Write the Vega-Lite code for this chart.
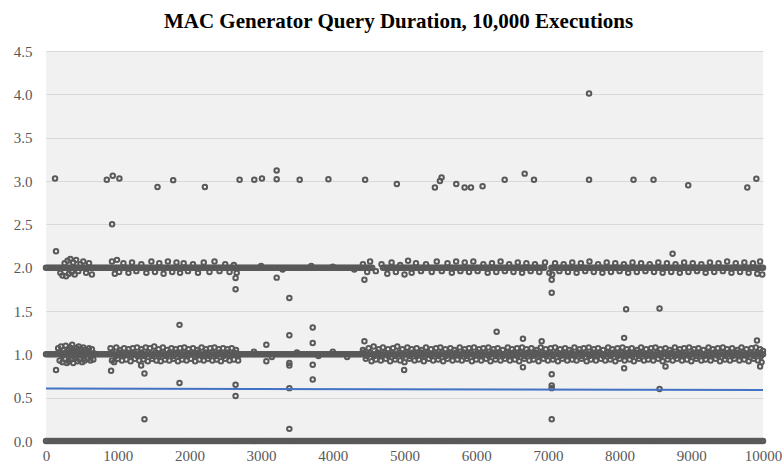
{
"$schema": "https://vega.github.io/schema/vega-lite/v6.json",
"width": 717, "height": 390,
"autosize": {"type": "none"},
"padding": {"left": 46, "top": 51, "right": 21, "bottom": 28},
"background": "white",
"title": {"text": "MAC Generator Query Duration, 10,000 Executions", "font": "Liberation Serif", "fontSize": 21, "fontWeight": "bold", "color": "#000000", "anchor": "middle", "offset": 12, "dx": -6},
"config": {"view": {"fill": "#f1f1f1", "stroke": null}},
"datasets": {
"zero": [
{"run":0,"sec":0},{"run":50,"sec":0},{"run":100,"sec":0},{"run":150,"sec":0},{"run":200,"sec":0},{"run":250,"sec":0},{"run":300,"sec":0},{"run":350,"sec":0},{"run":400,"sec":0},{"run":450,"sec":0},
{"run":500,"sec":0},{"run":550,"sec":0},{"run":600,"sec":0},{"run":650,"sec":0},{"run":700,"sec":0},{"run":750,"sec":0},{"run":800,"sec":0},{"run":850,"sec":0},{"run":900,"sec":0},{"run":950,"sec":0},
{"run":1000,"sec":0},{"run":1050,"sec":0},{"run":1100,"sec":0},{"run":1150,"sec":0},{"run":1200,"sec":0},{"run":1250,"sec":0},{"run":1300,"sec":0},{"run":1350,"sec":0},{"run":1400,"sec":0},{"run":1450,"sec":0},
{"run":1500,"sec":0},{"run":1550,"sec":0},{"run":1600,"sec":0},{"run":1650,"sec":0},{"run":1700,"sec":0},{"run":1750,"sec":0},{"run":1800,"sec":0},{"run":1850,"sec":0},{"run":1900,"sec":0},{"run":1950,"sec":0},
{"run":2000,"sec":0},{"run":2050,"sec":0},{"run":2100,"sec":0},{"run":2150,"sec":0},{"run":2200,"sec":0},{"run":2250,"sec":0},{"run":2300,"sec":0},{"run":2350,"sec":0},{"run":2400,"sec":0},{"run":2450,"sec":0},
{"run":2500,"sec":0},{"run":2550,"sec":0},{"run":2600,"sec":0},{"run":2650,"sec":0},{"run":2700,"sec":0},{"run":2750,"sec":0},{"run":2800,"sec":0},{"run":2850,"sec":0},{"run":2900,"sec":0},{"run":2950,"sec":0},
{"run":3000,"sec":0},{"run":3050,"sec":0},{"run":3100,"sec":0},{"run":3150,"sec":0},{"run":3200,"sec":0},{"run":3250,"sec":0},{"run":3300,"sec":0},{"run":3350,"sec":0},{"run":3400,"sec":0},{"run":3450,"sec":0},
{"run":3500,"sec":0},{"run":3550,"sec":0},{"run":3600,"sec":0},{"run":3650,"sec":0},{"run":3700,"sec":0},{"run":3750,"sec":0},{"run":3800,"sec":0},{"run":3850,"sec":0},{"run":3900,"sec":0},{"run":3950,"sec":0},
{"run":4000,"sec":0},{"run":4050,"sec":0},{"run":4100,"sec":0},{"run":4150,"sec":0},{"run":4200,"sec":0},{"run":4250,"sec":0},{"run":4300,"sec":0},{"run":4350,"sec":0},{"run":4400,"sec":0},{"run":4450,"sec":0},
{"run":4500,"sec":0},{"run":4550,"sec":0},{"run":4600,"sec":0},{"run":4650,"sec":0},{"run":4700,"sec":0},{"run":4750,"sec":0},{"run":4800,"sec":0},{"run":4850,"sec":0},{"run":4900,"sec":0},{"run":4950,"sec":0},
{"run":5000,"sec":0},{"run":5050,"sec":0},{"run":5100,"sec":0},{"run":5150,"sec":0},{"run":5200,"sec":0},{"run":5250,"sec":0},{"run":5300,"sec":0},{"run":5350,"sec":0},{"run":5400,"sec":0},{"run":5450,"sec":0},
{"run":5500,"sec":0},{"run":5550,"sec":0},{"run":5600,"sec":0},{"run":5650,"sec":0},{"run":5700,"sec":0},{"run":5750,"sec":0},{"run":5800,"sec":0},{"run":5850,"sec":0},{"run":5900,"sec":0},{"run":5950,"sec":0},
{"run":6000,"sec":0},{"run":6050,"sec":0},{"run":6100,"sec":0},{"run":6150,"sec":0},{"run":6200,"sec":0},{"run":6250,"sec":0},{"run":6300,"sec":0},{"run":6350,"sec":0},{"run":6400,"sec":0},{"run":6450,"sec":0},
{"run":6500,"sec":0},{"run":6550,"sec":0},{"run":6600,"sec":0},{"run":6650,"sec":0},{"run":6700,"sec":0},{"run":6750,"sec":0},{"run":6800,"sec":0},{"run":6850,"sec":0},{"run":6900,"sec":0},{"run":6950,"sec":0},
{"run":7000,"sec":0},{"run":7050,"sec":0},{"run":7100,"sec":0},{"run":7150,"sec":0},{"run":7200,"sec":0},{"run":7250,"sec":0},{"run":7300,"sec":0},{"run":7350,"sec":0},{"run":7400,"sec":0},{"run":7450,"sec":0},
{"run":7500,"sec":0},{"run":7550,"sec":0},{"run":7600,"sec":0},{"run":7650,"sec":0},{"run":7700,"sec":0},{"run":7750,"sec":0},{"run":7800,"sec":0},{"run":7850,"sec":0},{"run":7900,"sec":0},{"run":7950,"sec":0},
{"run":8000,"sec":0},{"run":8050,"sec":0},{"run":8100,"sec":0},{"run":8150,"sec":0},{"run":8200,"sec":0},{"run":8250,"sec":0},{"run":8300,"sec":0},{"run":8350,"sec":0},{"run":8400,"sec":0},{"run":8450,"sec":0},
{"run":8500,"sec":0},{"run":8550,"sec":0},{"run":8600,"sec":0},{"run":8650,"sec":0},{"run":8700,"sec":0},{"run":8750,"sec":0},{"run":8800,"sec":0},{"run":8850,"sec":0},{"run":8900,"sec":0},{"run":8950,"sec":0},
{"run":9000,"sec":0},{"run":9050,"sec":0},{"run":9100,"sec":0},{"run":9150,"sec":0},{"run":9200,"sec":0},{"run":9250,"sec":0},{"run":9300,"sec":0},{"run":9350,"sec":0},{"run":9400,"sec":0},{"run":9450,"sec":0},
{"run":9500,"sec":0},{"run":9550,"sec":0},{"run":9600,"sec":0},{"run":9650,"sec":0},{"run":9700,"sec":0},{"run":9750,"sec":0},{"run":9800,"sec":0},{"run":9850,"sec":0},{"run":9900,"sec":0},{"run":9950,"sec":0},
{"run":10000,"sec":0},
{"run":25,"sec":0},{"run":75,"sec":0},{"run":125,"sec":0},{"run":175,"sec":0},{"run":225,"sec":0},{"run":275,"sec":0},{"run":325,"sec":0},{"run":375,"sec":0},{"run":425,"sec":0},{"run":475,"sec":0},
{"run":525,"sec":0},{"run":575,"sec":0},{"run":625,"sec":0},{"run":675,"sec":0},{"run":725,"sec":0},{"run":775,"sec":0},{"run":825,"sec":0},{"run":875,"sec":0},{"run":925,"sec":0},{"run":975,"sec":0},
{"run":1025,"sec":0},{"run":1075,"sec":0},{"run":1125,"sec":0},{"run":1175,"sec":0},{"run":1225,"sec":0},{"run":1275,"sec":0},{"run":1325,"sec":0},{"run":1375,"sec":0},{"run":1425,"sec":0},{"run":1475,"sec":0},
{"run":1525,"sec":0},{"run":1575,"sec":0},{"run":1625,"sec":0},{"run":1675,"sec":0},{"run":1725,"sec":0},{"run":1775,"sec":0},{"run":1825,"sec":0},{"run":1875,"sec":0},{"run":1925,"sec":0},{"run":1975,"sec":0},
{"run":2025,"sec":0},{"run":2075,"sec":0},{"run":2125,"sec":0},{"run":2175,"sec":0},{"run":2225,"sec":0},{"run":2275,"sec":0},{"run":2325,"sec":0},{"run":2375,"sec":0},{"run":2425,"sec":0},{"run":2475,"sec":0},
{"run":2525,"sec":0},{"run":2575,"sec":0},{"run":2625,"sec":0},{"run":2675,"sec":0},{"run":2725,"sec":0},{"run":2775,"sec":0},{"run":2825,"sec":0},{"run":2875,"sec":0},{"run":2925,"sec":0},{"run":2975,"sec":0},
{"run":3025,"sec":0},{"run":3075,"sec":0},{"run":3125,"sec":0},{"run":3175,"sec":0},{"run":3225,"sec":0},{"run":3275,"sec":0},{"run":3325,"sec":0},{"run":3375,"sec":0},{"run":3425,"sec":0},{"run":3475,"sec":0},
{"run":3525,"sec":0},{"run":3575,"sec":0},{"run":3625,"sec":0},{"run":3675,"sec":0},{"run":3725,"sec":0},{"run":3775,"sec":0},{"run":3825,"sec":0},{"run":3875,"sec":0},{"run":3925,"sec":0},{"run":3975,"sec":0},
{"run":4025,"sec":0},{"run":4075,"sec":0},{"run":4125,"sec":0},{"run":4175,"sec":0},{"run":4225,"sec":0},{"run":4275,"sec":0},{"run":4325,"sec":0},{"run":4375,"sec":0},{"run":4425,"sec":0},{"run":4475,"sec":0},
{"run":4525,"sec":0},{"run":4575,"sec":0},{"run":4625,"sec":0},{"run":4675,"sec":0},{"run":4725,"sec":0},{"run":4775,"sec":0},{"run":4825,"sec":0},{"run":4875,"sec":0},{"run":4925,"sec":0},{"run":4975,"sec":0},
{"run":5025,"sec":0},{"run":5075,"sec":0},{"run":5125,"sec":0},{"run":5175,"sec":0},{"run":5225,"sec":0},{"run":5275,"sec":0},{"run":5325,"sec":0},{"run":5375,"sec":0},{"run":5425,"sec":0},{"run":5475,"sec":0},
{"run":5525,"sec":0},{"run":5575,"sec":0},{"run":5625,"sec":0},{"run":5675,"sec":0},{"run":5725,"sec":0},{"run":5775,"sec":0},{"run":5825,"sec":0},{"run":5875,"sec":0},{"run":5925,"sec":0},{"run":5975,"sec":0},
{"run":6025,"sec":0},{"run":6075,"sec":0},{"run":6125,"sec":0},{"run":6175,"sec":0},{"run":6225,"sec":0},{"run":6275,"sec":0},{"run":6325,"sec":0},{"run":6375,"sec":0},{"run":6425,"sec":0},{"run":6475,"sec":0},
{"run":6525,"sec":0},{"run":6575,"sec":0},{"run":6625,"sec":0},{"run":6675,"sec":0},{"run":6725,"sec":0},{"run":6775,"sec":0},{"run":6825,"sec":0},{"run":6875,"sec":0},{"run":6925,"sec":0},{"run":6975,"sec":0},
{"run":7025,"sec":0},{"run":7075,"sec":0},{"run":7125,"sec":0},{"run":7175,"sec":0},{"run":7225,"sec":0},{"run":7275,"sec":0},{"run":7325,"sec":0},{"run":7375,"sec":0},{"run":7425,"sec":0},{"run":7475,"sec":0},
{"run":7525,"sec":0},{"run":7575,"sec":0},{"run":7625,"sec":0},{"run":7675,"sec":0},{"run":7725,"sec":0},{"run":7775,"sec":0},{"run":7825,"sec":0},{"run":7875,"sec":0},{"run":7925,"sec":0},{"run":7975,"sec":0},
{"run":8025,"sec":0},{"run":8075,"sec":0},{"run":8125,"sec":0},{"run":8175,"sec":0},{"run":8225,"sec":0},{"run":8275,"sec":0},{"run":8325,"sec":0},{"run":8375,"sec":0},{"run":8425,"sec":0},{"run":8475,"sec":0},
{"run":8525,"sec":0},{"run":8575,"sec":0},{"run":8625,"sec":0},{"run":8675,"sec":0},{"run":8725,"sec":0},{"run":8775,"sec":0},{"run":8825,"sec":0},{"run":8875,"sec":0},{"run":8925,"sec":0},{"run":8975,"sec":0},
{"run":9025,"sec":0},{"run":9075,"sec":0},{"run":9125,"sec":0},{"run":9175,"sec":0},{"run":9225,"sec":0},{"run":9275,"sec":0},{"run":9325,"sec":0},{"run":9375,"sec":0},{"run":9425,"sec":0},{"run":9475,"sec":0},
{"run":9525,"sec":0},{"run":9575,"sec":0},{"run":9625,"sec":0},{"run":9675,"sec":0},{"run":9725,"sec":0},{"run":9775,"sec":0},{"run":9825,"sec":0},{"run":9875,"sec":0},{"run":9925,"sec":0},{"run":9975,"sec":0}
],
"one": [
{"run":0,"sec":1},{"run":50,"sec":1},{"run":100,"sec":1},{"run":150,"sec":1},{"run":200,"sec":1},{"run":250,"sec":1},{"run":300,"sec":1},{"run":350,"sec":1},{"run":400,"sec":1},{"run":450,"sec":1},
{"run":500,"sec":1},{"run":550,"sec":1},{"run":600,"sec":1},{"run":650,"sec":1},{"run":700,"sec":1},{"run":750,"sec":1},{"run":800,"sec":1},{"run":850,"sec":1},{"run":900,"sec":1},{"run":950,"sec":1},
{"run":1000,"sec":1},{"run":1050,"sec":1},{"run":1100,"sec":1},{"run":1150,"sec":1},{"run":1200,"sec":1},{"run":1250,"sec":1},{"run":1300,"sec":1},{"run":1350,"sec":1},{"run":1400,"sec":1},{"run":1450,"sec":1},
{"run":1500,"sec":1},{"run":1550,"sec":1},{"run":1600,"sec":1},{"run":1650,"sec":1},{"run":1700,"sec":1},{"run":1750,"sec":1},{"run":1800,"sec":1},{"run":1850,"sec":1},{"run":1900,"sec":1},{"run":1950,"sec":1},
{"run":2000,"sec":1},{"run":2050,"sec":1},{"run":2100,"sec":1},{"run":2150,"sec":1},{"run":2200,"sec":1},{"run":2250,"sec":1},{"run":2300,"sec":1},{"run":2350,"sec":1},{"run":2400,"sec":1},{"run":2450,"sec":1},
{"run":2500,"sec":1},{"run":2550,"sec":1},{"run":2600,"sec":1},{"run":2650,"sec":1},{"run":2700,"sec":1},{"run":2750,"sec":1},{"run":2800,"sec":1},{"run":2850,"sec":1},{"run":2900,"sec":1},{"run":2950,"sec":1},
{"run":3000,"sec":1},{"run":3050,"sec":1},{"run":3100,"sec":1},{"run":3150,"sec":1},{"run":3200,"sec":1},{"run":3250,"sec":1},{"run":3300,"sec":1},{"run":3350,"sec":1},{"run":3400,"sec":1},{"run":3450,"sec":1},
{"run":3500,"sec":1},{"run":3550,"sec":1},{"run":3600,"sec":1},{"run":3650,"sec":1},{"run":3700,"sec":1},{"run":3750,"sec":1},{"run":3800,"sec":1},{"run":3850,"sec":1},{"run":3900,"sec":1},{"run":3950,"sec":1},
{"run":4000,"sec":1},{"run":4050,"sec":1},{"run":4100,"sec":1},{"run":4150,"sec":1},{"run":4200,"sec":1},{"run":4250,"sec":1},{"run":4300,"sec":1},{"run":4350,"sec":1},{"run":4400,"sec":1},{"run":4450,"sec":1},
{"run":4500,"sec":1},{"run":4550,"sec":1},{"run":4600,"sec":1},{"run":4650,"sec":1},{"run":4700,"sec":1},{"run":4750,"sec":1},{"run":4800,"sec":1},{"run":4850,"sec":1},{"run":4900,"sec":1},{"run":4950,"sec":1},
{"run":5000,"sec":1},{"run":5050,"sec":1},{"run":5100,"sec":1},{"run":5150,"sec":1},{"run":5200,"sec":1},{"run":5250,"sec":1},{"run":5300,"sec":1},{"run":5350,"sec":1},{"run":5400,"sec":1},{"run":5450,"sec":1},
{"run":5500,"sec":1},{"run":5550,"sec":1},{"run":5600,"sec":1},{"run":5650,"sec":1},{"run":5700,"sec":1},{"run":5750,"sec":1},{"run":5800,"sec":1},{"run":5850,"sec":1},{"run":5900,"sec":1},{"run":5950,"sec":1},
{"run":6000,"sec":1},{"run":6050,"sec":1},{"run":6100,"sec":1},{"run":6150,"sec":1},{"run":6200,"sec":1},{"run":6250,"sec":1},{"run":6300,"sec":1},{"run":6350,"sec":1},{"run":6400,"sec":1},{"run":6450,"sec":1},
{"run":6500,"sec":1},{"run":6550,"sec":1},{"run":6600,"sec":1},{"run":6650,"sec":1},{"run":6700,"sec":1},{"run":6750,"sec":1},{"run":6800,"sec":1},{"run":6850,"sec":1},{"run":6900,"sec":1},{"run":6950,"sec":1},
{"run":7000,"sec":1},{"run":7050,"sec":1},{"run":7100,"sec":1},{"run":7150,"sec":1},{"run":7200,"sec":1},{"run":7250,"sec":1},{"run":7300,"sec":1},{"run":7350,"sec":1},{"run":7400,"sec":1},{"run":7450,"sec":1},
{"run":7500,"sec":1},{"run":7550,"sec":1},{"run":7600,"sec":1},{"run":7650,"sec":1},{"run":7700,"sec":1},{"run":7750,"sec":1},{"run":7800,"sec":1},{"run":7850,"sec":1},{"run":7900,"sec":1},{"run":7950,"sec":1},
{"run":8000,"sec":1},{"run":8050,"sec":1},{"run":8100,"sec":1},{"run":8150,"sec":1},{"run":8200,"sec":1},{"run":8250,"sec":1},{"run":8300,"sec":1},{"run":8350,"sec":1},{"run":8400,"sec":1},{"run":8450,"sec":1},
{"run":8500,"sec":1},{"run":8550,"sec":1},{"run":8600,"sec":1},{"run":8650,"sec":1},{"run":8700,"sec":1},{"run":8750,"sec":1},{"run":8800,"sec":1},{"run":8850,"sec":1},{"run":8900,"sec":1},{"run":8950,"sec":1},
{"run":9000,"sec":1},{"run":9050,"sec":1},{"run":9100,"sec":1},{"run":9150,"sec":1},{"run":9200,"sec":1},{"run":9250,"sec":1},{"run":9300,"sec":1},{"run":9350,"sec":1},{"run":9400,"sec":1},{"run":9450,"sec":1},
{"run":9500,"sec":1},{"run":9550,"sec":1},{"run":9600,"sec":1},{"run":9650,"sec":1},{"run":9700,"sec":1},{"run":9750,"sec":1},{"run":9800,"sec":1},{"run":9850,"sec":1},{"run":9900,"sec":1},{"run":9950,"sec":1},
{"run":10000,"sec":1},
{"run":25,"sec":1},{"run":75,"sec":1},{"run":125,"sec":1},{"run":175,"sec":1.02},{"run":225,"sec":0.98},{"run":275,"sec":1.02},{"run":325,"sec":0.98},{"run":375,"sec":1.02},{"run":425,"sec":0.98},{"run":475,"sec":1.02},
{"run":525,"sec":0.98},{"run":575,"sec":1.02},{"run":625,"sec":0.98},{"run":675,"sec":1.01},{"run":725,"sec":1},{"run":775,"sec":1},{"run":825,"sec":1},{"run":875,"sec":1},{"run":925,"sec":1.02},{"run":975,"sec":0.98},
{"run":1025,"sec":1.02},{"run":1075,"sec":0.98},{"run":1125,"sec":1.02},{"run":1175,"sec":0.98},{"run":1225,"sec":1.02},{"run":1275,"sec":0.98},{"run":1325,"sec":1.02},{"run":1375,"sec":0.98},{"run":1425,"sec":1.02},{"run":1475,"sec":0.98},
{"run":1525,"sec":1.02},{"run":1575,"sec":0.98},{"run":1625,"sec":1.02},{"run":1675,"sec":0.98},{"run":1725,"sec":1.02},{"run":1775,"sec":0.98},{"run":1825,"sec":1.02},{"run":1875,"sec":0.98},{"run":1925,"sec":1.02},{"run":1975,"sec":0.98},
{"run":2025,"sec":1.02},{"run":2075,"sec":0.98},{"run":2125,"sec":1.02},{"run":2175,"sec":0.98},{"run":2225,"sec":1.02},{"run":2275,"sec":0.98},{"run":2325,"sec":1.02},{"run":2375,"sec":0.98},{"run":2425,"sec":1.02},{"run":2475,"sec":0.98},
{"run":2525,"sec":1.02},{"run":2575,"sec":0.98},{"run":2625,"sec":1.02},{"run":2675,"sec":0.98},{"run":2725,"sec":1},{"run":2775,"sec":1},{"run":2825,"sec":1},{"run":2875,"sec":1},{"run":2925,"sec":1},{"run":2975,"sec":1},
{"run":3025,"sec":1},{"run":3075,"sec":1},{"run":3125,"sec":1},{"run":3175,"sec":1},{"run":3225,"sec":1},{"run":3275,"sec":1},{"run":3325,"sec":1},{"run":3375,"sec":1},{"run":3425,"sec":1},{"run":3475,"sec":1},
{"run":3525,"sec":1},{"run":3575,"sec":1},{"run":3625,"sec":1},{"run":3675,"sec":1},{"run":3725,"sec":1},{"run":3775,"sec":1},{"run":3825,"sec":1},{"run":3875,"sec":1},{"run":3925,"sec":1},{"run":3975,"sec":1},
{"run":4025,"sec":1},{"run":4075,"sec":1},{"run":4125,"sec":1},{"run":4175,"sec":1},{"run":4225,"sec":1},{"run":4275,"sec":1},{"run":4325,"sec":1},{"run":4375,"sec":1},{"run":4425,"sec":1.02},{"run":4475,"sec":0.98},
{"run":4525,"sec":1.02},{"run":4575,"sec":0.98},{"run":4625,"sec":1.02},{"run":4675,"sec":0.98},{"run":4725,"sec":1.02},{"run":4775,"sec":0.98},{"run":4825,"sec":1.02},{"run":4875,"sec":0.98},{"run":4925,"sec":1.02},{"run":4975,"sec":0.98},
{"run":5025,"sec":1.02},{"run":5075,"sec":0.98},{"run":5125,"sec":1.02},{"run":5175,"sec":0.98},{"run":5225,"sec":1.02},{"run":5275,"sec":0.98},{"run":5325,"sec":1.02},{"run":5375,"sec":0.98},{"run":5425,"sec":1.02},{"run":5475,"sec":0.98},
{"run":5525,"sec":1.02},{"run":5575,"sec":0.98},{"run":5625,"sec":1.02},{"run":5675,"sec":0.98},{"run":5725,"sec":1.02},{"run":5775,"sec":0.98},{"run":5825,"sec":1.02},{"run":5875,"sec":0.98},{"run":5925,"sec":1.02},{"run":5975,"sec":0.98},
{"run":6025,"sec":1.02},{"run":6075,"sec":0.98},{"run":6125,"sec":1.02},{"run":6175,"sec":0.98},{"run":6225,"sec":1.02},{"run":6275,"sec":0.98},{"run":6325,"sec":1.02},{"run":6375,"sec":0.98},{"run":6425,"sec":1.02},{"run":6475,"sec":0.98},
{"run":6525,"sec":1.02},{"run":6575,"sec":0.98},{"run":6625,"sec":1.02},{"run":6675,"sec":0.98},{"run":6725,"sec":1.02},{"run":6775,"sec":0.98},{"run":6825,"sec":1.02},{"run":6875,"sec":0.98},{"run":6925,"sec":1.02},{"run":6975,"sec":0.98},
{"run":7025,"sec":1.02},{"run":7075,"sec":0.98},{"run":7125,"sec":1.02},{"run":7175,"sec":0.98},{"run":7225,"sec":1.02},{"run":7275,"sec":0.98},{"run":7325,"sec":1.02},{"run":7375,"sec":0.98},{"run":7425,"sec":1.02},{"run":7475,"sec":0.98},
{"run":7525,"sec":1.02},{"run":7575,"sec":0.98},{"run":7625,"sec":1.02},{"run":7675,"sec":0.98},{"run":7725,"sec":1.02},{"run":7775,"sec":0.98},{"run":7825,"sec":1.02},{"run":7875,"sec":0.98},{"run":7925,"sec":1.02},{"run":7975,"sec":0.98},
{"run":8025,"sec":1.02},{"run":8075,"sec":0.98},{"run":8125,"sec":1.02},{"run":8175,"sec":0.98},{"run":8225,"sec":1.02},{"run":8275,"sec":0.98},{"run":8325,"sec":1.02},{"run":8375,"sec":0.98},{"run":8425,"sec":1.02},{"run":8475,"sec":0.98},
{"run":8525,"sec":1.02},{"run":8575,"sec":0.98},{"run":8625,"sec":1.02},{"run":8675,"sec":0.98},{"run":8725,"sec":1.02},{"run":8775,"sec":0.98},{"run":8825,"sec":1.02},{"run":8875,"sec":0.98},{"run":8925,"sec":1.02},{"run":8975,"sec":0.98},
{"run":9025,"sec":1.02},{"run":9075,"sec":0.98},{"run":9125,"sec":1.02},{"run":9175,"sec":0.98},{"run":9225,"sec":1.02},{"run":9275,"sec":0.98},{"run":9325,"sec":1.02},{"run":9375,"sec":0.98},{"run":9425,"sec":1.02},{"run":9475,"sec":0.98},
{"run":9525,"sec":1.02},{"run":9575,"sec":0.98},{"run":9625,"sec":1.02},{"run":9675,"sec":0.98},{"run":9725,"sec":1.02},{"run":9775,"sec":0.98},{"run":9825,"sec":1.02},{"run":9875,"sec":0.98},{"run":9925,"sec":1.02},{"run":9975,"sec":0.98},
{"run":170,"sec":1.07},{"run":190,"sec":0.93},{"run":210,"sec":1.09},{"run":230,"sec":0.91},{"run":250,"sec":1.05},{"run":260,"sec":0.95},{"run":275,"sec":1.1},{"run":290,"sec":0.9},{"run":305,"sec":1.06},{"run":320,"sec":0.92},
{"run":335,"sec":1.08},{"run":350,"sec":0.94},{"run":365,"sec":1.11},{"run":380,"sec":0.9},{"run":395,"sec":1.04},{"run":410,"sec":0.96},{"run":425,"sec":1.07},{"run":440,"sec":0.92},{"run":455,"sec":1.09},{"run":470,"sec":0.94},
{"run":490,"sec":1.06},{"run":505,"sec":0.91},{"run":520,"sec":1.08},{"run":540,"sec":0.93},{"run":560,"sec":1.05},{"run":580,"sec":0.95},{"run":600,"sec":1.07},{"run":620,"sec":0.93},{"run":640,"sec":1.06},{"run":660,"sec":0.94},
{"run":900,"sec":1.07},{"run":920,"sec":0.93},{"run":950,"sec":0.91},{"run":980,"sec":1.08},{"run":1000,"sec":0.95},{"run":1030,"sec":1.05},{"run":1060,"sec":0.93},{"run":1090,"sec":1.07},{"run":1120,"sec":0.94},{"run":1150,"sec":1.06},
{"run":1180,"sec":0.92},{"run":1210,"sec":1.07},{"run":1240,"sec":0.95},{"run":1270,"sec":1.08},{"run":1300,"sec":0.93},{"run":1330,"sec":1.06},{"run":1360,"sec":0.94},{"run":1390,"sec":1.08},{"run":1420,"sec":0.92},{"run":1450,"sec":1.07},
{"run":1480,"sec":0.95},{"run":1510,"sec":1.09},{"run":1540,"sec":0.93},{"run":1570,"sec":1.06},{"run":1600,"sec":0.92},{"run":1630,"sec":1.08},{"run":1660,"sec":0.94},{"run":1690,"sec":1.05},{"run":1720,"sec":0.93},{"run":1750,"sec":1.07},
{"run":1780,"sec":0.95},{"run":1810,"sec":1.06},{"run":1840,"sec":0.92},{"run":1870,"sec":1.07},{"run":1900,"sec":0.94},{"run":1930,"sec":1.08},{"run":1960,"sec":0.93},{"run":1990,"sec":1.06},{"run":2020,"sec":0.95},{"run":2050,"sec":1.07},
{"run":2080,"sec":0.92},{"run":2110,"sec":1.05},{"run":2140,"sec":0.94},{"run":2170,"sec":1.08},{"run":2200,"sec":0.93},{"run":2230,"sec":1.06},{"run":2260,"sec":0.95},{"run":2290,"sec":1.07},{"run":2320,"sec":0.93},{"run":2350,"sec":1.08},
{"run":2380,"sec":0.94},{"run":2410,"sec":1.06},{"run":2440,"sec":0.92},{"run":2470,"sec":1.07},{"run":2500,"sec":0.95},{"run":2530,"sec":1.06},{"run":2560,"sec":0.93},{"run":2590,"sec":1.07},{"run":2620,"sec":0.94},{"run":2650,"sec":1.05},
{"run":2680,"sec":0.93},
{"run":2900,"sec":1.03},{"run":3150,"sec":0.97},{"run":3500,"sec":1.02},{"run":3800,"sec":0.98},{"run":4000,"sec":1.03},{"run":4200,"sec":0.97},
{"run":4420,"sec":1.05},{"run":4460,"sec":0.95},{"run":4500,"sec":1.07},{"run":4540,"sec":0.92},{"run":4570,"sec":1.09},{"run":4600,"sec":0.94},{"run":4640,"sec":1.06},{"run":4670,"sec":0.93},{"run":4700,"sec":1.08},{"run":4740,"sec":0.95},
{"run":4770,"sec":1.06},{"run":4800,"sec":0.92},{"run":4840,"sec":1.07},{"run":4870,"sec":0.94},{"run":4900,"sec":1.09},{"run":4940,"sec":0.93},{"run":4970,"sec":1.06},{"run":5000,"sec":0.91},{"run":5040,"sec":1.08},{"run":5070,"sec":0.95},
{"run":5100,"sec":1.06},{"run":5140,"sec":0.93},{"run":5170,"sec":1.07},{"run":5200,"sec":0.94},{"run":5240,"sec":1.05},{"run":5270,"sec":0.92},{"run":5300,"sec":1.08},{"run":5340,"sec":0.95},{"run":5370,"sec":1.06},{"run":5400,"sec":0.93},
{"run":5440,"sec":1.07},{"run":5470,"sec":0.94},{"run":5500,"sec":1.08},{"run":5540,"sec":0.92},{"run":5570,"sec":1.06},{"run":5600,"sec":0.95},{"run":5640,"sec":1.07},{"run":5670,"sec":0.93},{"run":5700,"sec":1.05},{"run":5740,"sec":0.94},
{"run":5770,"sec":1.08},{"run":5800,"sec":0.93},{"run":5840,"sec":1.06},{"run":5870,"sec":0.95},{"run":5900,"sec":1.07},{"run":5940,"sec":0.92},{"run":5970,"sec":1.08},{"run":6000,"sec":0.94},{"run":6040,"sec":1.06},{"run":6070,"sec":0.93},
{"run":6100,"sec":1.07},{"run":6140,"sec":0.95},{"run":6170,"sec":1.08},{"run":6200,"sec":0.92},{"run":6240,"sec":1.06},{"run":6270,"sec":0.94},{"run":6300,"sec":1.07},{"run":6340,"sec":0.93},{"run":6370,"sec":1.05},{"run":6400,"sec":0.95},
{"run":6440,"sec":1.08},{"run":6470,"sec":0.93},{"run":6500,"sec":1.06},{"run":6540,"sec":0.94},{"run":6570,"sec":1.07},{"run":6600,"sec":0.92},{"run":6640,"sec":1.08},{"run":6670,"sec":0.95},{"run":6700,"sec":1.06},{"run":6740,"sec":0.93},
{"run":6770,"sec":1.07},{"run":6800,"sec":0.94},{"run":6840,"sec":1.05},{"run":6870,"sec":0.92},{"run":6900,"sec":1.08},{"run":6940,"sec":0.95},{"run":6970,"sec":1.06},{"run":7000,"sec":0.93},{"run":7040,"sec":1.07},{"run":7070,"sec":0.94},
{"run":7100,"sec":1.08},{"run":7140,"sec":0.92},{"run":7170,"sec":1.06},{"run":7200,"sec":0.95},{"run":7240,"sec":1.07},{"run":7270,"sec":0.93},{"run":7300,"sec":1.05},{"run":7340,"sec":0.94},{"run":7370,"sec":1.08},{"run":7400,"sec":0.93},
{"run":7440,"sec":1.06},{"run":7470,"sec":0.95},{"run":7500,"sec":1.07},{"run":7540,"sec":0.92},{"run":7570,"sec":1.08},{"run":7600,"sec":0.94},{"run":7640,"sec":1.06},{"run":7670,"sec":0.93},{"run":7700,"sec":1.07},{"run":7740,"sec":0.95},
{"run":7770,"sec":1.05},{"run":7800,"sec":0.93},{"run":7840,"sec":1.08},{"run":7870,"sec":0.94},{"run":7900,"sec":1.06},{"run":7940,"sec":0.92},{"run":7970,"sec":1.07},{"run":8000,"sec":0.95},{"run":8040,"sec":1.08},{"run":8070,"sec":0.93},
{"run":8100,"sec":1.06},{"run":8140,"sec":0.94},{"run":8170,"sec":1.07},{"run":8200,"sec":0.92},{"run":8240,"sec":1.05},{"run":8270,"sec":0.95},{"run":8300,"sec":1.08},{"run":8340,"sec":0.93},{"run":8370,"sec":1.06},{"run":8400,"sec":0.94},
{"run":8440,"sec":1.07},{"run":8470,"sec":0.93},{"run":8500,"sec":1.08},{"run":8540,"sec":0.95},{"run":8570,"sec":1.06},{"run":8600,"sec":0.92},{"run":8640,"sec":1.07},{"run":8670,"sec":0.94},{"run":8700,"sec":1.05},{"run":8740,"sec":0.93},
{"run":8770,"sec":1.08},{"run":8800,"sec":0.95},{"run":8840,"sec":1.06},{"run":8870,"sec":0.93},{"run":8900,"sec":1.07},{"run":8940,"sec":0.94},{"run":8970,"sec":1.08},{"run":9000,"sec":0.92},{"run":9040,"sec":1.06},{"run":9070,"sec":0.95},
{"run":9100,"sec":1.07},{"run":9140,"sec":0.93},{"run":9170,"sec":1.05},{"run":9200,"sec":0.94},{"run":9240,"sec":1.08},{"run":9270,"sec":0.93},{"run":9300,"sec":1.06},{"run":9340,"sec":0.95},{"run":9370,"sec":1.07},{"run":9400,"sec":0.92},
{"run":9440,"sec":1.08},{"run":9470,"sec":0.94},{"run":9500,"sec":1.06},{"run":9540,"sec":0.93},{"run":9570,"sec":1.07},{"run":9600,"sec":0.95},{"run":9640,"sec":1.05},{"run":9670,"sec":0.93},{"run":9700,"sec":1.08},{"run":9740,"sec":0.94},
{"run":9770,"sec":1.06},{"run":9800,"sec":0.92},{"run":9840,"sec":1.07},{"run":9870,"sec":0.95},{"run":9900,"sec":1.08},{"run":9930,"sec":0.93},{"run":9960,"sec":1.06},{"run":9980,"sec":0.91},{"run":10000,"sec":1.04}
],
"two": [
{"run":0,"sec":2},{"run":50,"sec":2},{"run":100,"sec":2},{"run":150,"sec":2},{"run":200,"sec":2},{"run":250,"sec":2},{"run":300,"sec":2},{"run":350,"sec":2},{"run":400,"sec":2},{"run":450,"sec":2},
{"run":500,"sec":2},{"run":550,"sec":2},{"run":600,"sec":2},{"run":650,"sec":2},{"run":700,"sec":2},{"run":750,"sec":2},{"run":800,"sec":2},{"run":850,"sec":2},{"run":900,"sec":2},{"run":950,"sec":2},
{"run":1000,"sec":2},{"run":1050,"sec":2},{"run":1100,"sec":2},{"run":1150,"sec":2},{"run":1200,"sec":2},{"run":1250,"sec":2},{"run":1300,"sec":2},{"run":1350,"sec":2},{"run":1400,"sec":2},{"run":1450,"sec":2},
{"run":1500,"sec":2},{"run":1550,"sec":2},{"run":1600,"sec":2},{"run":1650,"sec":2},{"run":1700,"sec":2},{"run":1750,"sec":2},{"run":1800,"sec":2},{"run":1850,"sec":2},{"run":1900,"sec":2},{"run":1950,"sec":2},
{"run":2000,"sec":2},{"run":2050,"sec":2},{"run":2100,"sec":2},{"run":2150,"sec":2},{"run":2200,"sec":2},{"run":2250,"sec":2},{"run":2300,"sec":2},{"run":2350,"sec":2},{"run":2400,"sec":2},{"run":2450,"sec":2},
{"run":2500,"sec":2},{"run":2550,"sec":2},{"run":2600,"sec":2},{"run":2650,"sec":2},{"run":2700,"sec":2},{"run":2750,"sec":2},{"run":2800,"sec":2},{"run":2850,"sec":2},{"run":2900,"sec":2},{"run":2950,"sec":2},
{"run":3000,"sec":2},{"run":3050,"sec":2},{"run":3100,"sec":2},{"run":3150,"sec":2},{"run":3200,"sec":2},{"run":3250,"sec":2},{"run":3300,"sec":2},{"run":3350,"sec":2},{"run":3400,"sec":2},{"run":3450,"sec":2},
{"run":3500,"sec":2},{"run":3550,"sec":2},{"run":3600,"sec":2},{"run":3650,"sec":2},{"run":3700,"sec":2},{"run":3750,"sec":2},{"run":3800,"sec":2},{"run":3850,"sec":2},{"run":3900,"sec":2},{"run":3950,"sec":2},
{"run":4000,"sec":2},{"run":4050,"sec":2},{"run":4100,"sec":2},{"run":4150,"sec":2},{"run":4200,"sec":2},{"run":4250,"sec":2},{"run":4300,"sec":2},{"run":4350,"sec":2},{"run":4400,"sec":2},{"run":4450,"sec":2},
{"run":4500,"sec":2},{"run":4550,"sec":2},{"run":4700,"sec":2},{"run":4750,"sec":2},{"run":4800,"sec":2},{"run":4850,"sec":2},{"run":4900,"sec":2},{"run":4950,"sec":2},
{"run":5000,"sec":2},{"run":5050,"sec":2},{"run":5100,"sec":2},{"run":5150,"sec":2},{"run":5200,"sec":2},{"run":5250,"sec":2},{"run":5300,"sec":2},{"run":5350,"sec":2},{"run":5400,"sec":2},{"run":5450,"sec":2},
{"run":5500,"sec":2},{"run":5550,"sec":2},{"run":5600,"sec":2},{"run":5650,"sec":2},{"run":5700,"sec":2},{"run":5750,"sec":2},{"run":5800,"sec":2},{"run":5850,"sec":2},{"run":5900,"sec":2},{"run":5950,"sec":2},
{"run":6000,"sec":2},{"run":6050,"sec":2},{"run":6100,"sec":2},{"run":6150,"sec":2},{"run":6200,"sec":2},{"run":6250,"sec":2},{"run":6300,"sec":2},{"run":6350,"sec":2},{"run":6400,"sec":2},{"run":6450,"sec":2},
{"run":6500,"sec":2},{"run":6550,"sec":2},{"run":6600,"sec":2},{"run":6650,"sec":2},{"run":6700,"sec":2},{"run":6750,"sec":2},{"run":6800,"sec":2},{"run":6850,"sec":2},{"run":6900,"sec":2},{"run":6950,"sec":2},
{"run":7050,"sec":2},{"run":7100,"sec":2},{"run":7150,"sec":2},{"run":7200,"sec":2},{"run":7250,"sec":2},{"run":7300,"sec":2},{"run":7350,"sec":2},{"run":7400,"sec":2},{"run":7450,"sec":2},
{"run":7500,"sec":2},{"run":7550,"sec":2},{"run":7600,"sec":2},{"run":7650,"sec":2},{"run":7700,"sec":2},{"run":7750,"sec":2},{"run":7800,"sec":2},{"run":7850,"sec":2},{"run":7900,"sec":2},{"run":7950,"sec":2},
{"run":8000,"sec":2},{"run":8050,"sec":2},{"run":8100,"sec":2},{"run":8150,"sec":2},{"run":8200,"sec":2},{"run":8250,"sec":2},{"run":8300,"sec":2},{"run":8350,"sec":2},{"run":8400,"sec":2},{"run":8450,"sec":2},
{"run":8500,"sec":2},{"run":8550,"sec":2},{"run":8600,"sec":2},{"run":8650,"sec":2},{"run":8700,"sec":2},{"run":8750,"sec":2},{"run":8800,"sec":2},{"run":8850,"sec":2},{"run":8900,"sec":2},{"run":8950,"sec":2},
{"run":9000,"sec":2},{"run":9050,"sec":2},{"run":9100,"sec":2},{"run":9150,"sec":2},{"run":9200,"sec":2},{"run":9250,"sec":2},{"run":9300,"sec":2},{"run":9350,"sec":2},{"run":9400,"sec":2},{"run":9450,"sec":2},
{"run":9500,"sec":2},{"run":9550,"sec":2},{"run":9600,"sec":2},{"run":9650,"sec":2},{"run":9700,"sec":2},{"run":9750,"sec":2},{"run":9800,"sec":2},{"run":9850,"sec":2},{"run":9900,"sec":2},{"run":9950,"sec":2},
{"run":10000,"sec":2},
{"run":25,"sec":2},{"run":75,"sec":2},{"run":125,"sec":2},{"run":175,"sec":2},{"run":225,"sec":2},{"run":275,"sec":2},{"run":325,"sec":2},{"run":375,"sec":2},{"run":425,"sec":2},{"run":475,"sec":2},
{"run":525,"sec":2},{"run":575,"sec":2},{"run":625,"sec":2},{"run":675,"sec":2},{"run":725,"sec":2},{"run":775,"sec":2},{"run":825,"sec":2},{"run":875,"sec":2},{"run":925,"sec":2},{"run":975,"sec":2},
{"run":1025,"sec":2},{"run":1075,"sec":2},{"run":1125,"sec":2},{"run":1175,"sec":2},{"run":1225,"sec":2},{"run":1275,"sec":2},{"run":1325,"sec":2},{"run":1375,"sec":2},{"run":1425,"sec":2},{"run":1475,"sec":2},
{"run":1525,"sec":2},{"run":1575,"sec":2},{"run":1625,"sec":2},{"run":1675,"sec":2},{"run":1725,"sec":2},{"run":1775,"sec":2},{"run":1825,"sec":2},{"run":1875,"sec":2},{"run":1925,"sec":2},{"run":1975,"sec":2},
{"run":2025,"sec":2},{"run":2075,"sec":2},{"run":2125,"sec":2},{"run":2175,"sec":2},{"run":2225,"sec":2},{"run":2275,"sec":2},{"run":2325,"sec":2},{"run":2375,"sec":2},{"run":2425,"sec":2},{"run":2475,"sec":2},
{"run":2525,"sec":2},{"run":2575,"sec":2},{"run":2625,"sec":2},{"run":2675,"sec":2},{"run":2725,"sec":2},{"run":2775,"sec":2},{"run":2825,"sec":2},{"run":2875,"sec":2},{"run":2925,"sec":2},{"run":2975,"sec":2},
{"run":3025,"sec":2},{"run":3075,"sec":2},{"run":3125,"sec":2},{"run":3175,"sec":2},{"run":3225,"sec":2},{"run":3275,"sec":2},{"run":3325,"sec":2},{"run":3375,"sec":2},{"run":3425,"sec":2},{"run":3475,"sec":2},
{"run":3525,"sec":2},{"run":3575,"sec":2},{"run":3625,"sec":2},{"run":3675,"sec":2},{"run":3725,"sec":2},{"run":3775,"sec":2},{"run":3825,"sec":2},{"run":3875,"sec":2},{"run":3925,"sec":2},{"run":3975,"sec":2},
{"run":4025,"sec":2},{"run":4075,"sec":2},{"run":4125,"sec":2},{"run":4175,"sec":2},{"run":4225,"sec":2},{"run":4275,"sec":2},{"run":4325,"sec":2},{"run":4375,"sec":2},{"run":4425,"sec":2},{"run":4475,"sec":2},
{"run":4525,"sec":2},{"run":4725,"sec":2},{"run":4775,"sec":2},{"run":4825,"sec":2},{"run":4875,"sec":2},{"run":4925,"sec":2},{"run":4975,"sec":2},
{"run":5025,"sec":2},{"run":5075,"sec":2},{"run":5125,"sec":2},{"run":5175,"sec":2},{"run":5225,"sec":2},{"run":5275,"sec":2},{"run":5325,"sec":2},{"run":5375,"sec":2},{"run":5425,"sec":2},{"run":5475,"sec":2},
{"run":5525,"sec":2},{"run":5575,"sec":2},{"run":5625,"sec":2},{"run":5675,"sec":2},{"run":5725,"sec":2},{"run":5775,"sec":2},{"run":5825,"sec":2},{"run":5875,"sec":2},{"run":5925,"sec":2},{"run":5975,"sec":2},
{"run":6025,"sec":2},{"run":6075,"sec":2},{"run":6125,"sec":2},{"run":6175,"sec":2},{"run":6225,"sec":2},{"run":6275,"sec":2},{"run":6325,"sec":2},{"run":6375,"sec":2},{"run":6425,"sec":2},{"run":6475,"sec":2},
{"run":6525,"sec":2},{"run":6575,"sec":2},{"run":6625,"sec":2},{"run":6675,"sec":2},{"run":6725,"sec":2},{"run":6775,"sec":2},{"run":6825,"sec":2},{"run":6875,"sec":2},{"run":6925,"sec":2},
{"run":7075,"sec":2},{"run":7125,"sec":2},{"run":7175,"sec":2},{"run":7225,"sec":2},{"run":7275,"sec":2},{"run":7325,"sec":2},{"run":7375,"sec":2},{"run":7425,"sec":2},{"run":7475,"sec":2},
{"run":7525,"sec":2},{"run":7575,"sec":2},{"run":7625,"sec":2},{"run":7675,"sec":2},{"run":7725,"sec":2},{"run":7775,"sec":2},{"run":7825,"sec":2},{"run":7875,"sec":2},{"run":7925,"sec":2},{"run":7975,"sec":2},
{"run":8025,"sec":2},{"run":8075,"sec":2},{"run":8125,"sec":2},{"run":8175,"sec":2},{"run":8225,"sec":2},{"run":8275,"sec":2},{"run":8325,"sec":2},{"run":8375,"sec":2},{"run":8425,"sec":2},{"run":8475,"sec":2},
{"run":8525,"sec":2},{"run":8575,"sec":2},{"run":8625,"sec":2},{"run":8675,"sec":2},{"run":8725,"sec":2},{"run":8775,"sec":2},{"run":8825,"sec":2},{"run":8875,"sec":2},{"run":8925,"sec":2},{"run":8975,"sec":2},
{"run":9025,"sec":2},{"run":9075,"sec":2},{"run":9125,"sec":2},{"run":9175,"sec":2},{"run":9225,"sec":2},{"run":9275,"sec":2},{"run":9325,"sec":2},{"run":9375,"sec":2},{"run":9425,"sec":2},{"run":9475,"sec":2},
{"run":9525,"sec":2},{"run":9575,"sec":2},{"run":9625,"sec":2},{"run":9675,"sec":2},{"run":9725,"sec":2},{"run":9775,"sec":2},{"run":9825,"sec":2},{"run":9875,"sec":2},{"run":9925,"sec":2},{"run":9975,"sec":2},
{"run":200,"sec":1.94},{"run":230,"sec":1.91},{"run":260,"sec":2.05},{"run":280,"sec":1.9},{"run":300,"sec":2.08},{"run":320,"sec":1.93},{"run":340,"sec":2.1},{"run":360,"sec":1.95},{"run":380,"sec":2.06},{"run":400,"sec":1.92},
{"run":420,"sec":2.09},{"run":450,"sec":1.96},{"run":480,"sec":2.04},{"run":520,"sec":2.07},{"run":560,"sec":1.94},{"run":600,"sec":2.05},{"run":640,"sec":1.92},
{"run":920,"sec":2.07},{"run":960,"sec":1.93},{"run":990,"sec":2.09},{"run":1020,"sec":1.95},{"run":1080,"sec":2.05},{"run":1150,"sec":1.94},{"run":1200,"sec":2.06},{"run":1260,"sec":1.96},{"run":1330,"sec":2.04},{"run":1400,"sec":1.94},
{"run":1470,"sec":2.07},{"run":1520,"sec":1.95},{"run":1580,"sec":2.05},{"run":1640,"sec":1.93},{"run":1700,"sec":2.07},{"run":1760,"sec":1.95},{"run":1820,"sec":2.06},{"run":1870,"sec":1.94},{"run":1920,"sec":2.05},{"run":1980,"sec":1.96},
{"run":2050,"sec":2.04},{"run":2120,"sec":1.94},{"run":2200,"sec":2.06},{"run":2280,"sec":1.95},{"run":2350,"sec":2.07},{"run":2420,"sec":1.96},{"run":2500,"sec":2.04},{"run":2560,"sec":1.95},{"run":2620,"sec":2.03},{"run":2660,"sec":1.94},
{"run":3000,"sec":2.02},{"run":3300,"sec":1.98},{"run":3700,"sec":2.02},{"run":4000,"sec":2.01},{"run":4300,"sec":1.98},
{"run":4420,"sec":2.04},{"run":4480,"sec":1.95},{"run":4520,"sec":2.07},{"run":4600,"sec":1.96},{"run":4680,"sec":2.04},{"run":4760,"sec":1.93},{"run":4820,"sec":2.06},{"run":4880,"sec":1.95},{"run":4940,"sec":2.03},{"run":5000,"sec":1.92},
{"run":5050,"sec":2.08},{"run":5100,"sec":1.94},{"run":5160,"sec":2.05},{"run":5230,"sec":1.96},{"run":5300,"sec":2.04},{"run":5380,"sec":1.95},{"run":5450,"sec":2.07},{"run":5520,"sec":1.96},{"run":5600,"sec":2.05},{"run":5660,"sec":1.94},
{"run":5720,"sec":2.07},{"run":5780,"sec":1.96},{"run":5840,"sec":2.06},{"run":5900,"sec":1.95},{"run":5960,"sec":2.07},{"run":6020,"sec":1.96},{"run":6100,"sec":2.04},{"run":6160,"sec":1.94},{"run":6220,"sec":2.05},{"run":6280,"sec":1.95},
{"run":6340,"sec":2.07},{"run":6400,"sec":1.96},{"run":6460,"sec":2.04},{"run":6520,"sec":1.95},{"run":6580,"sec":2.06},{"run":6640,"sec":1.94},{"run":6700,"sec":2.05},{"run":6760,"sec":1.96},{"run":6820,"sec":2.04},{"run":6880,"sec":1.95},
{"run":6960,"sec":2.06},{"run":7020,"sec":1.94},{"run":7060,"sec":1.92},{"run":7100,"sec":2.05},{"run":7160,"sec":1.96},{"run":7220,"sec":2.04},{"run":7280,"sec":1.95},{"run":7340,"sec":2.06},{"run":7400,"sec":1.94},{"run":7460,"sec":2.05},
{"run":7520,"sec":1.96},{"run":7580,"sec":2.07},{"run":7640,"sec":1.95},{"run":7700,"sec":2.04},{"run":7760,"sec":1.94},{"run":7820,"sec":2.06},{"run":7880,"sec":1.95},{"run":7940,"sec":2.05},{"run":8000,"sec":1.96},{"run":8060,"sec":2.04},
{"run":8120,"sec":1.94},{"run":8180,"sec":2.06},{"run":8240,"sec":1.95},{"run":8300,"sec":2.05},{"run":8360,"sec":1.96},{"run":8420,"sec":2.04},{"run":8480,"sec":1.95},{"run":8540,"sec":2.06},{"run":8600,"sec":1.94},{"run":8660,"sec":2.05},
{"run":8720,"sec":1.95},{"run":8780,"sec":2.04},{"run":8840,"sec":1.94},{"run":8900,"sec":2.06},{"run":8960,"sec":1.95},{"run":9020,"sec":2.05},{"run":9080,"sec":1.96},{"run":9140,"sec":2.04},{"run":9200,"sec":1.94},{"run":9260,"sec":2.06},
{"run":9320,"sec":1.95},{"run":9380,"sec":2.05},{"run":9440,"sec":1.96},{"run":9500,"sec":2.07},{"run":9560,"sec":1.94},{"run":9620,"sec":2.05},{"run":9680,"sec":1.95},{"run":9740,"sec":2.06},{"run":9800,"sec":1.94},{"run":9860,"sec":2.05},
{"run":9920,"sec":1.93},{"run":9960,"sec":2.07},{"run":9990,"sec":1.92}
],
"outliers": [
{"run":126,"sec":3.03},{"run":848,"sec":3.015},{"run":931,"sec":3.06},{"run":1024,"sec":3.03},{"run":922,"sec":2.5},{"run":1555,"sec":2.93},{"run":1774,"sec":3.01},{"run":2216,"sec":2.93},{"run":2700,"sec":3.015},{"run":2905,"sec":3.015},
{"run":3012,"sec":3.03},{"run":3217,"sec":3.12},{"run":3217,"sec":3.02},{"run":3538,"sec":3.015},{"run":3939,"sec":3.02},{"run":4451,"sec":3.015},{"run":4893,"sec":2.965},{"run":5424,"sec":2.925},{"run":5494,"sec":3.0},{"run":5517,"sec":3.04},
{"run":5722,"sec":2.965},{"run":5838,"sec":2.925},{"run":5927,"sec":2.925},{"run":6089,"sec":2.94},{"run":6397,"sec":3.015},{"run":7574,"sec":4.01},{"run":6676,"sec":3.085},{"run":6806,"sec":3.015},{"run":7574,"sec":3.015},{"run":8194,"sec":3.015},
{"run":8473,"sec":3.015},{"run":8957,"sec":2.95},{"run":9781,"sec":2.925},{"run":9907,"sec":3.025},
{"run":140,"sec":2.19},{"run":2644,"sec":1.75},{"run":2644,"sec":1.88},{"run":1862,"sec":1.34},{"run":140,"sec":0.82},{"run":908,"sec":0.81},{"run":1373,"sec":0.25},{"run":1327,"sec":0.87},{"run":1373,"sec":0.78},{"run":1862,"sec":0.67},
{"run":2644,"sec":0.65},{"run":2644,"sec":0.52},{"run":3217,"sec":1.885},{"run":3394,"sec":1.65},{"run":4441,"sec":1.86},{"run":3720,"sec":1.31},{"run":3394,"sec":1.22},{"run":3720,"sec":1.13},{"run":3073,"sec":1.11},{"run":3073,"sec":0.92},
{"run":4441,"sec":1.15},{"run":3394,"sec":0.9},{"run":3394,"sec":0.87},{"run":3720,"sec":0.88},{"run":3720,"sec":0.71},{"run":3394,"sec":0.61},{"run":3394,"sec":0.14},{"run":6285,"sec":1.26},{"run":4995,"sec":0.82},{"run":7053,"sec":1.71},
{"run":8091,"sec":1.52},{"run":8557,"sec":1.53},{"run":7053,"sec":1.86},{"run":8063,"sec":1.19},{"run":6652,"sec":1.18},{"run":6913,"sec":1.15},{"run":9916,"sec":1.16},{"run":7053,"sec":0.77},{"run":7053,"sec":0.64},{"run":7053,"sec":0.61},
{"run":8557,"sec":0.6},{"run":7053,"sec":0.25},{"run":8739,"sec":2.16},{"run":6652,"sec":0.85},{"run":8063,"sec":0.84},{"run":8640,"sec":0.86},{"run":9960,"sec":0.86}
],
"trend": [{"run":0,"sec":0.605},{"run":10000,"sec":0.588}]
},
"layer": [
{"data": {"name": "zero"}, "mark": {"type": "point", "shape": "circle", "filled": false, "stroke": "#595959", "strokeWidth": 2, "size": 20, "opacity": 1},
 "encoding": {
  "x": {"field": "run", "type": "quantitative", "scale": {"domain": [0, 10000], "nice": false},
        "axis": {"values": [0,1000,2000,3000,4000,5000,6000,7000,8000,9000,10000], "format": "d", "grid": false, "domain": false, "ticks": false, "labelFont": "Liberation Serif", "labelFontSize": 15, "labelColor": "#595959", "labelPadding": 7, "labelFlush": false, "title": null}},
  "y": {"field": "sec", "type": "quantitative", "scale": {"domain": [0, 4.5], "nice": false},
        "axis": {"values": [0,0.5,1,1.5,2,2.5,3,3.5,4,4.5], "format": ".1f", "grid": true, "gridColor": "#d9d9d9", "gridWidth": 1, "domain": false, "ticks": false, "labelFont": "Liberation Serif", "labelFontSize": 15, "labelColor": "#595959", "labelPadding": 14, "title": null}}
 }},
{"data": {"name": "one"}, "mark": {"type": "point", "shape": "circle", "filled": false, "stroke": "#595959", "strokeWidth": 2, "size": 20, "opacity": 1},
 "encoding": {"x": {"field": "run", "type": "quantitative"}, "y": {"field": "sec", "type": "quantitative"}}},
{"data": {"name": "two"}, "mark": {"type": "point", "shape": "circle", "filled": false, "stroke": "#595959", "strokeWidth": 2, "size": 20, "opacity": 1},
 "encoding": {"x": {"field": "run", "type": "quantitative"}, "y": {"field": "sec", "type": "quantitative"}}},
{"data": {"name": "outliers"}, "mark": {"type": "point", "shape": "circle", "filled": false, "stroke": "#595959", "strokeWidth": 2, "size": 20, "opacity": 1},
 "encoding": {"x": {"field": "run", "type": "quantitative"}, "y": {"field": "sec", "type": "quantitative"}}},
{"data": {"name": "trend"}, "mark": {"type": "line", "color": "#4472C4", "strokeWidth": 2},
 "encoding": {"x": {"field": "run", "type": "quantitative"}, "y": {"field": "sec", "type": "quantitative"}}}
]
}
